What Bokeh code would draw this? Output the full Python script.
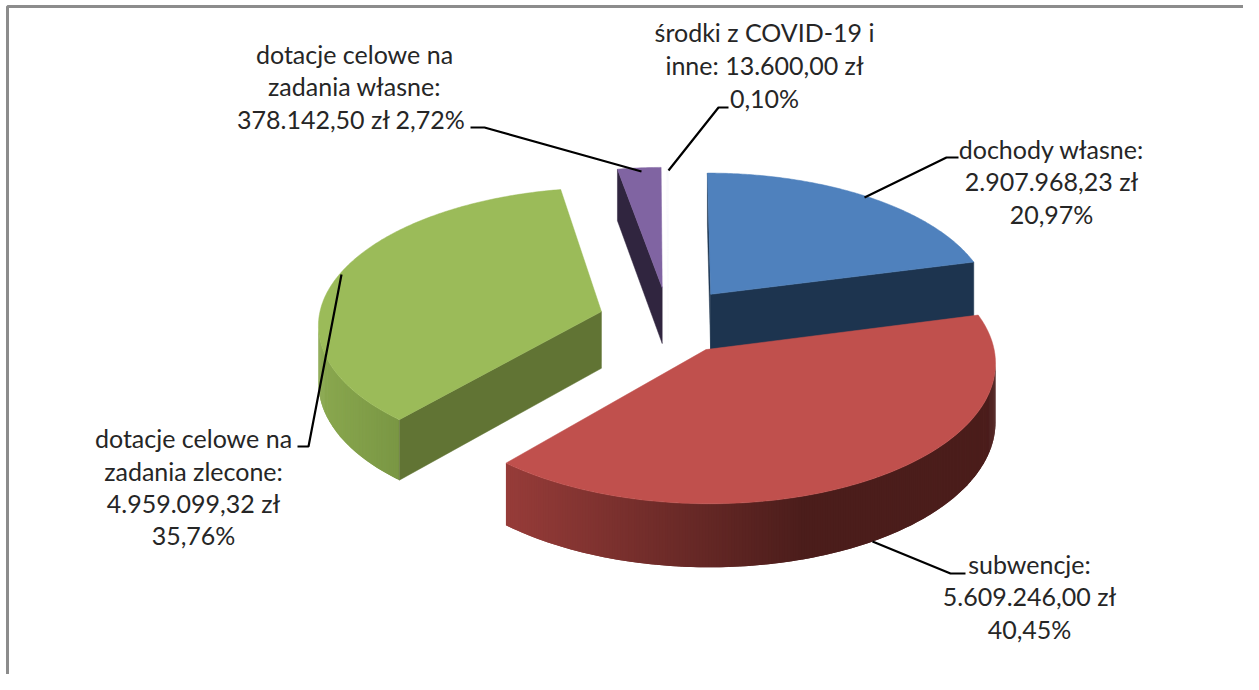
import numpy as np
from bokeh.plotting import figure
from bokeh.models import Range1d
from bokeh.core.properties import value
from bokeh.embed import file_html
from bokeh.resources import INLINE

# ---- data ----
categories = ["dochody własne", "subwencje", "dotacje celowe na zadania zlecone",
              "środki z COVID-19 i inne", "dotacje celowe na zadania własne"]
amounts = [2907968.23, 5609246.00, 4959099.32, 13600.00, 378142.50]
slice_order = [0, 1, 2, 4, 3]  # clockwise from 12 o'clock
label_lines = {
    0: ["dochody własne:", "2.907.968,23 zł", "20,97%"],
    1: ["subwencje:", "5.609.246,00 zł", "40,45%"],
    2: ["dotacje celowe na", "zadania zlecone:", "4.959.099,32 zł", "35,76%"],
    3: ["środki z COVID-19 i", "inne: 13.600,00 zł", "0,10%"],
    4: ["dotacje celowe na", "zadania własne:", "378.142,50 zł  2,72%"],
}

# ---- style and layout ----
top_col = {0: "#4f81bd", 1: "#c0504d", 2: "#9bbb59", 3: "#fbfbfd", 4: "#8064a2"}
face_col = {0: "#1d344f", 1: "#4b1d1b", 2: "#617434", 3: "#fbfbfd", 4: "#30253f"}
wall_l = {0: "#1d344f", 1: "#973c39", 2: "#8aa84f", 3: "#fbfbfd", 4: "#30253f"}
wall_r = {0: "#1d344f", 1: "#4b1d1b", 2: "#7a9744", 3: "#fbfbfd", 4: "#30253f"}
wall_span = {0: 100, 1: 300, 2: 80, 3: 10, 4: 40}
paint_order = [0, 3, 4, 2, 1]

CX, CY, R, EXPL, KY, PERSP, H = 668.0, 320.0, 283.0, 70.0, 0.48, 0.0003, 57.0

label_pos = {
    0: (1051, [148, 180, 213]),
    1: (1029, [563, 595, 628]),
    2: (193, [437, 470, 502, 534]),
    3: (764, [31, 64, 97]),
    4: (354, [53, 85, 118]),
}
leaders = [
    ([470, 484, 641], [127, 127, 171]),
    ([668, 718, 728], [170, 107, 107]),
    ([864, 946, 958], [197, 157, 157]),
    ([872, 950, 965], [541, 573, 573]),
    ([341, 308, 297], [274, 446, 446]),
]


def proj(u, v, z=0.0):
    s = 1.0 / (1.0 + PERSP * v)
    return CX + u * s, CY - v * KY * s + z * s


def mix(a, b, t):
    ca = [int(a[i:i + 2], 16) for i in (1, 3, 5)]
    cb = [int(b[i:i + 2], 16) for i in (1, 3, 5)]
    return "#%02x%02x%02x" % tuple(round(x + (y - x) * t) for x, y in zip(ca, cb))


def area(xs, ys):
    n = len(xs)
    return 0.5 * sum(xs[i] * ys[(i + 1) % n] - xs[(i + 1) % n] * ys[i] for i in range(n))


p = figure(width=1243, height=674, output_backend="svg", toolbar_location=None,
           x_range=Range1d(0, 1243), y_range=Range1d(674, 0),
           min_border=0, outline_line_color=None)
p.xaxis.visible = False
p.yaxis.visible = False
p.grid.visible = False

# chart frame
p.line([7, 7, 1243], [674, 6, 6], line_color="#8c8c8c", line_width=3)

total = sum(amounts)
bounds = {}
a0 = 0.0
for i in slice_order:
    a1 = a0 + 2 * np.pi * amounts[i] / total
    bounds[i] = (a0, a1)
    a0 = a1

for i in paint_order:
    a0, a1 = bounds[i]
    mid = (a0 + a1) / 2
    ox, oy = EXPL * np.sin(mid), EXPL * np.cos(mid)
    th = np.linspace(a0, a1, max(int((a1 - a0) * 110), 3))
    u = ox + R * np.sin(th)
    v = oy + R * np.cos(th)
    tx, ty = proj(u, v)
    bx, by = proj(u, v, H)
    ax, ay = proj(ox, oy)
    abx, aby = proj(ox, oy, H)

    # outer wall as thin shaded strips; each strip overlaps the next to hide seams
    xmin = tx.min()
    for k in range(len(th) - 1):
        qx = [tx[k], tx[min(k + 2, len(th) - 1)], bx[min(k + 2, len(th) - 1)], bx[k]]
        qy = [ty[k], ty[min(k + 2, len(th) - 1)], by[min(k + 2, len(th) - 1)], by[k]]
        if area(qx, qy) >= 0:
            continue
        t = min(max((tx[k] - xmin) / wall_span[i], 0), 1)
        c = mix(wall_l[i], wall_r[i], t)
        p.patch(qx, qy, fill_color=c, line_color=None)

    # cut faces
    for n, sign in ((0, -1), (-1, 1)):
        fx = [ax, tx[n], bx[n], abx]
        fy = [ay, ty[n], by[n], aby]
        if sign * area(fx, fy) > 0:
            p.patch(fx, fy, fill_color=face_col[i], line_color=face_col[i], line_width=0.5)

    # top
    p.patch([ax, *tx], [ay, *ty], fill_color=top_col[i], line_color=top_col[i], line_width=0.5)

for xs, ys in leaders:
    p.line(xs, ys, line_color="#000000", line_width=2.2)

for i, lines in label_lines.items():
    x, ys = label_pos[i]
    p.text([x] * len(lines), ys, text=lines, text_align="center", text_baseline="middle",
           text_font=value("Lato"), text_font_size="25px", text_color="#262626")

open("out.html", "w").write(file_html(p, INLINE))
